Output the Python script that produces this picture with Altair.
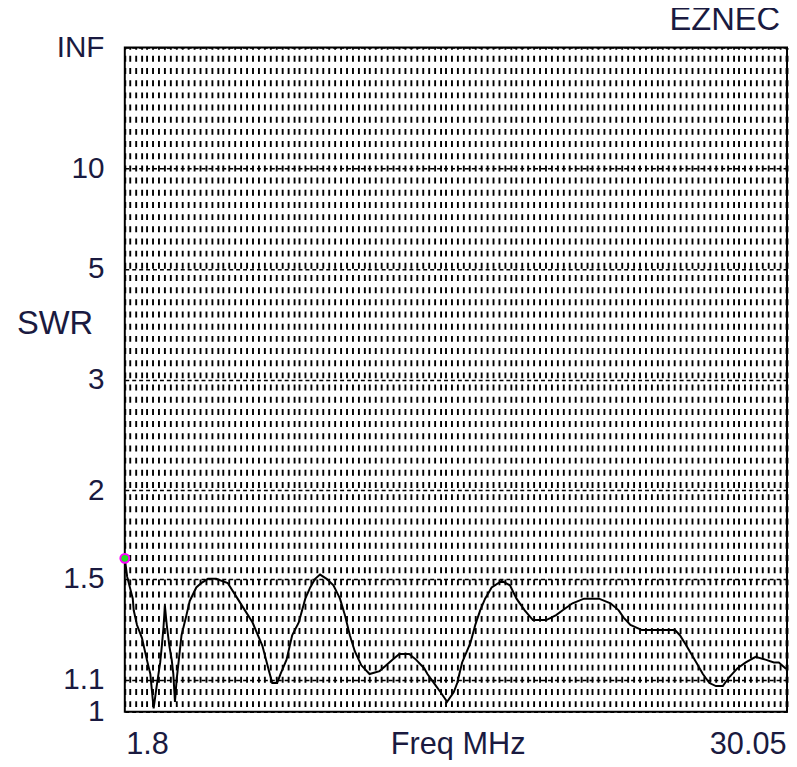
import altair as alt
import pandas as pd

# ---- data (EZNEC SWR sweep) ----
freq_mhz = [1.8, 1.9, 2.14, 2.18, 2.32, 2.53, 2.74, 2.89, 2.95, 3.03,
            3.16, 3.31, 3.38, 3.45, 3.51, 3.59, 3.70, 3.80, 3.87, 3.94,
            4.01, 4.22, 4.43, 4.57, 4.85, 5.06, 5.35, 5.70, 6.19, 6.61,
            7.25, 7.67, 7.95, 8.09, 8.30, 8.44, 8.70, 8.94, 9.22, 9.50,
            9.71, 9.92, 10.13, 10.41, 10.70, 10.98, 11.19, 11.40, 11.61, 11.89,
            12.24, 12.67, 13.23, 13.51, 13.93, 14.22, 14.57, 14.71, 14.99, 15.27,
            15.55, 15.83, 15.98, 16.19, 16.54, 16.75, 16.96, 17.17, 17.45, 17.88,
            18.23, 18.51, 18.86, 19.21, 19.78, 20.20, 20.48, 20.90, 21.39, 22.03,
            22.52, 22.87, 23.08, 23.37, 23.86, 24.35, 24.91, 25.27, 25.48, 25.76,
            26.18, 26.46, 26.74, 27.02, 27.31, 27.59, 27.94, 28.29, 28.71, 29.13,
            29.49, 29.70, 29.98, 30.05]
swr = [1.60, 1.51, 1.41, 1.36, 1.30, 1.25, 1.17, 1.12, 1.07, 1.01,
       1.08, 1.16, 1.22, 1.29, 1.38, 1.30, 1.22, 1.17, 1.12, 1.03,
       1.10, 1.26, 1.34, 1.40, 1.46, 1.48, 1.50, 1.50, 1.48, 1.41,
       1.31, 1.22, 1.13, 1.09, 1.09, 1.12, 1.17, 1.26, 1.31, 1.41,
       1.46, 1.50, 1.52, 1.50, 1.47, 1.41, 1.34, 1.26, 1.20, 1.15,
       1.12, 1.13, 1.17, 1.19, 1.19, 1.17, 1.14, 1.12, 1.09, 1.06,
       1.03, 1.06, 1.09, 1.16, 1.23, 1.30, 1.36, 1.41, 1.46, 1.49,
       1.47, 1.41, 1.36, 1.32, 1.32, 1.34, 1.36, 1.39, 1.41, 1.41,
       1.39, 1.36, 1.33, 1.30, 1.28, 1.28, 1.28, 1.28, 1.26, 1.22,
       1.16, 1.12, 1.09, 1.08, 1.08, 1.11, 1.14, 1.16, 1.18, 1.17,
       1.16, 1.16, 1.14, 1.14]

freq_range = [1.8, 30.05]
freq_grid_start, freq_grid_stop, freq_grid_step = 2.0, 30.0, 0.25
freq_label_values = [1.8, 16.0, 30.05]
freq_label_text = ["1.8", "Freq MHz", "30.05"]

swr_ticks = [1.0, 1.1, 1.5, 2.0, 3.0, 5.0, 10.0, float("inf")]
swr_tick_labels = ["1", "1.1", "1.5", "2", "3", "5", "10", "INF"]


def refl(s):
    # SWR axis of EZNEC is linear in reflection coefficient |rho|
    return 1.0 if s == float("inf") else (s - 1.0) / (s + 1.0)


df = pd.DataFrame({"freq": freq_mhz, "swr": swr})
df["rho"] = [refl(s) for s in swr]
start_df = df.iloc[[0]]

rho_ticks = [refl(s) for s in swr_ticks]
n_grid = int(round((freq_grid_stop - freq_grid_start) / freq_grid_step)) + 1
freq_grid = [round(freq_grid_start + i * freq_grid_step, 4) for i in range(n_grid)]
x_values = sorted(set(freq_grid + freq_label_values))

x_label_expr = " : ".join(
    f"abs(datum.value - {v}) < 1e-6 ? '{t}'" for v, t in zip(freq_label_values, freq_label_text)
) + " : ''"
y_label_expr = " : ".join(
    f"abs(datum.value - {r:.6f}) < 1e-4 ? '{t}'" for r, t in zip(rho_ticks, swr_tick_labels)
) + " : ''"

FONT = "Liberation Sans"
TXT = "#1a1a40"

x_enc = alt.X(
    "freq:Q",
    scale=alt.Scale(domain=freq_range, nice=False, zero=False),
    axis=alt.Axis(
        values=x_values, tickCount=len(x_values) + 50, labelExpr=x_label_expr, title=None,
        grid=True, gridColor="black", gridWidth=1.9, gridOpacity=1,
        gridDash=[6, 6.3], gridDashOffset=4.3,
        ticks=False, tickSize=0, domain=False,
        labelFont=FONT, labelFontSize=31, labelColor=TXT,
        labelBaseline="alphabetic", labelPadding=42,
        labelFlush=True, labelFlushOffset=-1, labelOverlap=False, labelBound=False,
    ),
)
y_enc = alt.Y(
    "rho:Q",
    scale=alt.Scale(domain=[0, 1], nice=False, zero=False),
    axis=alt.Axis(
        values=rho_ticks, tickCount=len(rho_ticks) + 10, labelExpr=y_label_expr,
        title="SWR", titleAngle=0, titleX=-71, titleY=279,
        titleAlign="center", titleBaseline="middle",
        titleFont=FONT, titleFontSize=33, titleFontWeight="normal", titleColor=TXT,
        grid=True, gridColor="black", gridWidth=1.5, gridOpacity=1, gridDash=[4, 3],
        ticks=False, tickSize=0, domain=False,
        labelFont=FONT, labelFontSize=30, labelColor=TXT,
        labelPadding=21, labelOverlap=False, labelBound=False, labelFlush=False,
    ),
)

line = alt.Chart(df).mark_line(color="black", strokeWidth=2).encode(x=x_enc, y=y_enc)
start = alt.Chart(start_df).mark_point(
    shape="circle", filled=True, fill="#22dd22", stroke="#ff00ff",
    strokeWidth=2, size=80, opacity=1,
).encode(x="freq:Q", y="rho:Q")

chart = (
    alt.layer(line, start)
    .properties(
        width=669, height=671,
        autosize=alt.AutoSizeParams(type="none"),
        padding={"left": 118, "top": 36, "right": 2, "bottom": 45},
        title=alt.TitleParams(
            "EZNEC", anchor="end", orient="top", font=FONT, fontSize=33,
            fontWeight="normal", color=TXT, dx=-11, dy=30, offset=0, baseline="alphabetic",
        ),
        background="white",
    )
    .configure_view(stroke="black", strokeWidth=2)
)

chart.save("out.html", embed_options={"renderer": "svg", "actions": False})
